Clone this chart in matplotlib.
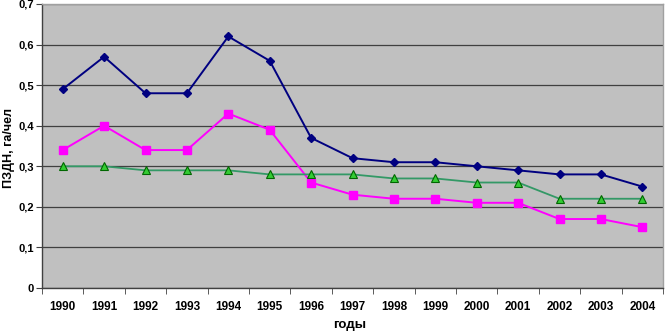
import numpy as np
import matplotlib
matplotlib.use('Agg')
import matplotlib.pyplot as plt
from matplotlib.ticker import MultipleLocator, FixedLocator, FuncFormatter

plt.rcParams['font.family'] = ['Liberation Sans', 'DejaVu Sans']

years = ['1990', '1991', '1992', '1993', '1994', '1995', '1996', '1997',
         '1998', '1999', '2000', '2001', '2002', '2003', '2004']
blue = [0.49, 0.57, 0.48, 0.48, 0.62, 0.56, 0.37, 0.32, 0.31, 0.31, 0.30, 0.29, 0.28, 0.28, 0.25]
pink = [0.34, 0.40, 0.34, 0.34, 0.43, 0.39, 0.26, 0.23, 0.22, 0.22, 0.21, 0.21, 0.17, 0.17, 0.15]
green = [0.30, 0.30, 0.29, 0.29, 0.29, 0.28, 0.28, 0.28, 0.27, 0.27, 0.26, 0.26, 0.22, 0.22, 0.22]

fig = plt.figure(figsize=(6.65, 3.33), dpi=100)
ax = fig.add_axes([42/665, 45/333, 621/665, 284/333])
ax.set_facecolor('#c0c0c0')

x = np.arange(len(years))
ax.plot(x, blue, color='#000080', lw=1.4, marker='D', ms=4.5, mfc='#000080', mec='#000080')
ax.plot(x, pink, color='#ff00ff', lw=1.4, marker='s', ms=6, mfc='#ff00ff', mec='#ff00ff')
ax.plot(x, green, color='#339966', lw=1.3, marker='^', ms=5.5, mfc='#33cc33', mec='#006600', mew=0.8)

ax.set_xlim(-0.5, len(years) - 0.5)
ax.set_ylim(0, 0.7)
ax.yaxis.set_major_locator(MultipleLocator(0.1))
ax.yaxis.set_major_formatter(FuncFormatter(lambda v, p: '0' if v == 0 else ('%.1f' % v).replace('.', ',')))
ax.grid(axis='y', color='#404040', lw=0.9)
ax.set_axisbelow(True)

ax.set_xticks(x)
ax.set_xticklabels(years)
ax.tick_params(axis='x', length=0, pad=9)
ax.xaxis.set_minor_locator(FixedLocator(np.arange(-0.5, len(years), 1.0)))
ax.tick_params(axis='x', which='minor', length=4, direction='out', color='#404040')
ax.tick_params(axis='y', length=4, direction='out', color='#404040', pad=2)
for lab in ax.get_xticklabels():
    lab.set_fontweight('bold')
    lab.set_fontsize(8.5)
for lab in ax.get_yticklabels():
    lab.set_fontweight('bold')
    lab.set_fontsize(8)

for s in ['left', 'bottom']:
    ax.spines[s].set_color('#404040')
    ax.spines[s].set_linewidth(1.0)
for s in ['top', 'right']:
    ax.spines[s].set_color('#a0a0a0')
    ax.spines[s].set_linewidth(1.0)

fig.text(9/665, 1 - 148/333, 'ПЗДН, га/чел', rotation=90, ha='center', va='center',
         fontsize=9, fontweight='bold')
fig.text(350/665, 1 - 325/333, 'годы', ha='center', va='center',
         fontsize=9.5, fontweight='bold')

fig.savefig('out.png', dpi=100)
